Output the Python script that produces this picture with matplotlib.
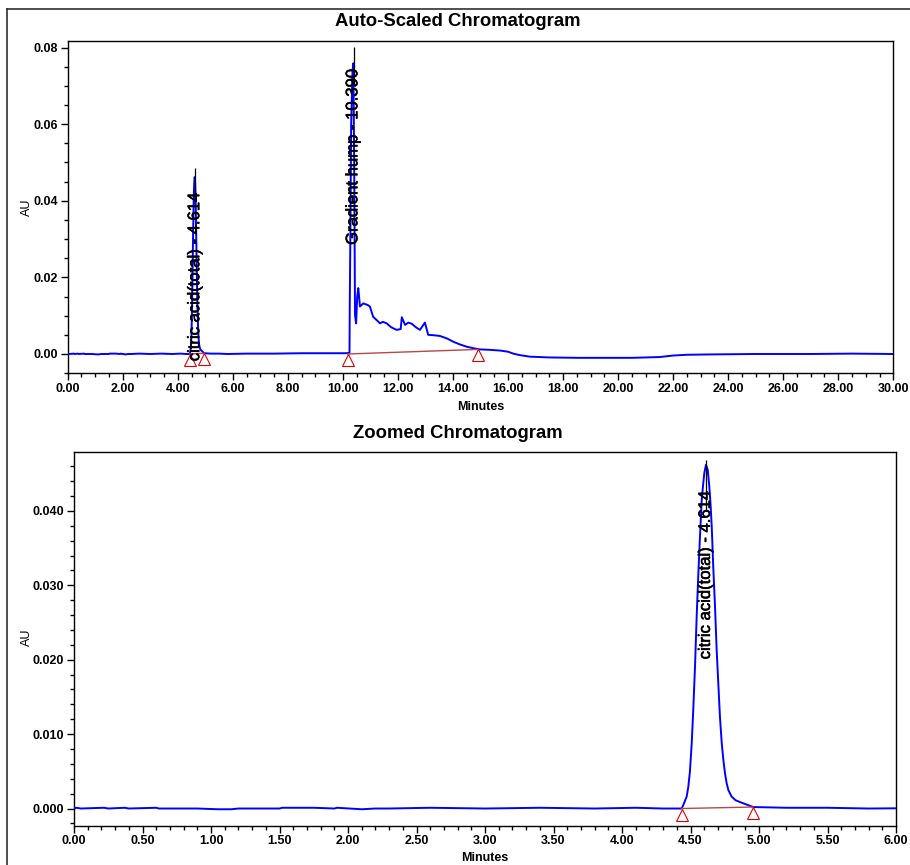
import matplotlib
matplotlib.use('Agg')
import matplotlib.pyplot as plt
import matplotlib.patheffects as pe
from matplotlib.lines import Line2D
from matplotlib.ticker import MultipleLocator, FormatStrFormatter
from matplotlib import transforms

plt.rcParams['font.family'] = ['Liberation Sans', 'DejaVu Sans']

#%% data (minutes, AU)
time = [0.00, 0.02, 0.05, 0.22, 0.25, 0.37, 0.40, 0.60, 0.62, 0.90, 1.05, 1.15, 1.20,
        1.50, 1.52, 1.75, 1.90, 1.92, 2.10, 2.20, 2.30, 2.60, 3.00, 3.40, 3.80, 4.10,
        4.30, 4.436, 4.448, 4.472, 4.484, 4.496, 4.509, 4.520, 4.533, 4.545, 4.556,
        4.569, 4.582, 4.592, 4.601, 4.613, 4.626, 4.637, 4.646, 4.655, 4.666, 4.679,
        4.691, 4.703, 4.715, 4.728, 4.740, 4.752, 4.764, 4.776, 4.800, 4.830, 4.885,
        4.958, 5.20, 5.50, 5.80, 6.50, 7.50, 8.50, 9.50, 10.10, 10.24, 10.25, 10.27,
        10.30, 10.35, 10.38, 10.41, 10.44, 10.48, 10.52, 10.56, 10.62, 10.74, 10.90,
        10.98, 11.10, 11.22, 11.35, 11.45, 11.59, 11.75, 11.95, 12.10, 12.14, 12.26,
        12.38, 12.50, 12.65, 12.80, 12.98, 13.10, 13.30, 13.53, 13.80, 14.01, 14.25,
        14.50, 14.75, 14.98, 15.30, 15.71, 16.00, 16.19, 16.43, 16.80, 17.50, 18.50,
        19.50, 20.50, 21.50, 22.00, 22.50, 23.50, 25.00, 27.00, 28.50, 30.00]
au = [0.0000, 0.0001, 0.0000, 0.0001, 0.0000, 0.0001, 0.0000, 0.0001, 0.0000, 0.0000,
      -0.0001, -0.0001, 0.0000, 0.0000, 0.0001, 0.0001, 0.0000, 0.0001, -0.0001, 0.0000,
      0.0000, 0.0001, 0.0000, 0.0001, 0.0000, 0.0001, 0.0000,
      0.0000, 0.0005, 0.0016, 0.0029, 0.0050, 0.0088, 0.0132, 0.0191, 0.0258, 0.0310,
      0.0365, 0.0415, 0.0435, 0.0451, 0.0462, 0.0455, 0.0433, 0.0410, 0.0379, 0.0325,
      0.0271, 0.0213, 0.0168, 0.0123, 0.0088, 0.0065, 0.0047, 0.0034, 0.0025, 0.0016,
      0.0011, 0.0007, 0.0002,
      0.0001, 0.0001, 0.0000, 0.0001, 0.0001, 0.0002, 0.0002, 0.0002, 0.0003, 0.0132,
      0.0300, 0.0600, 0.0740, 0.0759, 0.0500, 0.0102, 0.0080, 0.0150, 0.0172, 0.0124,
      0.0132, 0.0128, 0.0124, 0.0097, 0.0089, 0.0080, 0.0084, 0.0080, 0.0070, 0.0063,
      0.0065, 0.0096, 0.0076, 0.0082, 0.0079, 0.0070, 0.0063, 0.0082, 0.0050, 0.0049,
      0.0047, 0.0040, 0.0032, 0.0025, 0.0019, 0.0015, 0.0012, 0.0011, 0.0009, 0.0006,
      0.0001, -0.0003, -0.0007, -0.0009, -0.0010, -0.0010, -0.0010, -0.0008, -0.0004,
      -0.0002, -0.0001, 0.0000, 0.0000, 0.0001, 0.0000]

# integration baselines: (start, end) times and AU
base_t = [(4.436, 4.958), (10.17, 14.92)]
base_au = [(0.0000, 0.0002), (0.0000, 0.0012)]

# peak names and retention times
peak_names = ['citric acid(total) - 4.614', 'Gradient hump - 10.390']
peak_rt = [4.614, 10.390]

#%% figure
fig = plt.figure(figsize=(9.1, 8.65), dpi=100)

# outer frame (only top and left edges visible)
fig.add_artist(Line2D([7/910, 1], [1-9/865, 1-9/865], color='#303030', lw=1.2))
fig.add_artist(Line2D([7/910, 7/910], [0, 1-9/865], color='#303030', lw=1.2))

ax1 = fig.add_axes([67.7/910, 1-373.3/865, (893.3-67.7)/910, (373.3-40.7)/865])
ax2 = fig.add_axes([74/910, 1-825.7/865, (896-74)/910, (825.7-452.3)/865])

blue = '#0000ff'
bline = '#b84848'
tri = '#e00000'
heavy = [pe.withStroke(linewidth=0.4, foreground='black')]

for ax in [ax1, ax2]:
    ax.plot(time, au, color=blue, lw=1.4, zorder=3)
    for (t0, t1), (a0, a1) in zip(base_t, base_au):
        ax.plot([t0, t1], [a0, a1], color=bline, lw=1.0, zorder=4)
        off = transforms.offset_copy(ax.transData, fig=fig, y=-6, units='dots')
        ax.plot([t0, t1], [a0, a1], ls='none', marker='^', ms=8.6, mfc='none',
                mec=tri, mew=0.8, transform=off, zorder=5, clip_on=False)
    for sp in ax.spines.values():
        sp.set_linewidth(1.0)
    ax.tick_params(which='major', direction='out', length=5, width=1, labelsize=9, pad=2)
    ax.tick_params(which='minor', direction='out', length=3, width=1)

# top: auto-scaled
ax1.set_xlim(0, 30)
ax1.set_ylim(-0.00504, 0.0818)
ax1.xaxis.set_major_locator(MultipleLocator(2))
ax1.xaxis.set_minor_locator(MultipleLocator(0.5))
ax1.yaxis.set_major_locator(MultipleLocator(0.02))
ax1.yaxis.set_minor_locator(MultipleLocator(0.005))
ax1.xaxis.set_major_formatter(FormatStrFormatter('%.2f'))
ax1.yaxis.set_major_formatter(FormatStrFormatter('%.2f'))
ax1.vlines(peak_rt[0], 0.040, 0.0486, color='black', lw=0.9, zorder=6)
ax1.vlines(peak_rt[1], 0.070, 0.0802, color='black', lw=0.9, zorder=6)
ax1.text(peak_rt[0], 0.0423, peak_names[0], rotation=90, ha='center', va='top',
         fontsize=12, zorder=7, path_effects=heavy)
ax1.text(peak_rt[1] - 0.03, 0.0745, peak_names[1], rotation=90, ha='center', va='top',
         fontsize=12, zorder=7, path_effects=heavy)

# bottom: zoomed
ax2.set_xlim(0, 6)
ax2.set_ylim(-0.00231, 0.04788)
ax2.xaxis.set_major_locator(MultipleLocator(0.5))
ax2.xaxis.set_minor_locator(MultipleLocator(0.1))
ax2.yaxis.set_major_locator(MultipleLocator(0.01))
ax2.yaxis.set_minor_locator(MultipleLocator(0.002))
ax2.xaxis.set_major_formatter(FormatStrFormatter('%.2f'))
ax2.yaxis.set_major_formatter(FormatStrFormatter('%.3f'))
ax2.vlines(peak_rt[0], 0.040, 0.0469, color='black', lw=0.9, zorder=6)
ax2.text(peak_rt[0] - 0.005, 0.0428, peak_names[0], rotation=90, ha='center', va='top',
         fontsize=12, zorder=7, path_effects=heavy)

for lab in ax1.get_xticklabels() + ax1.get_yticklabels() + ax2.get_xticklabels() + ax2.get_yticklabels():
    lab.set_fontweight('bold')

# titles and axis labels
fig.text(457.5/910, 1-22/865, 'Auto-Scaled Chromatogram', ha='center', va='center',
         fontsize=13.3, fontweight='bold')
fig.text(458/910, 1-434/865, 'Zoomed Chromatogram', ha='center', va='center',
         fontsize=13.3, fontweight='bold')
fig.text(480.5/910, 1-407/865, 'Minutes', ha='center', va='center', fontsize=9, fontweight='bold')
fig.text(485/910, 1-858/865, 'Minutes', ha='center', va='center', fontsize=9, fontweight='bold')
fig.text(27/910, 1-207/865, 'AU', ha='center', va='center', rotation=90, fontsize=9)
fig.text(27/910, 1-637/865, 'AU', ha='center', va='center', rotation=90, fontsize=9)

fig.savefig('out.png', dpi=100)
